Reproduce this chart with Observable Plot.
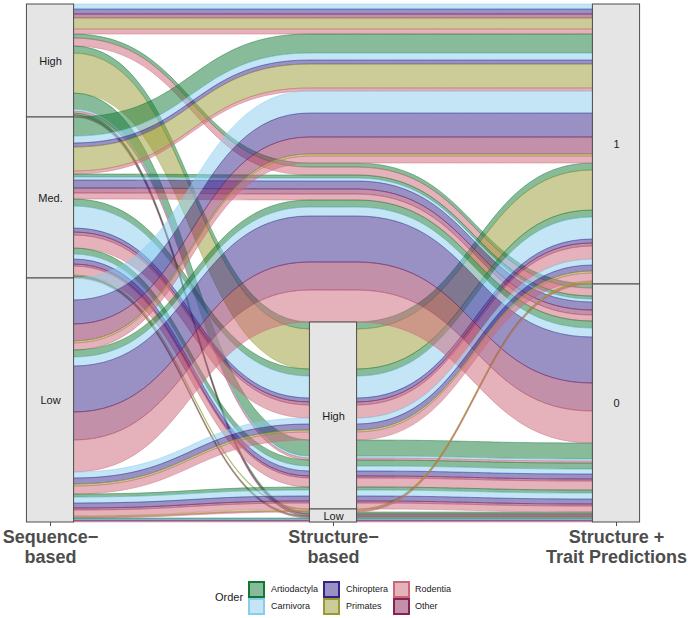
<!DOCTYPE html>
<html><head><meta charset="utf-8">
<script src="https://cdn.jsdelivr.net/npm/d3@7"></script>
<script src="https://cdn.jsdelivr.net/npm/@observablehq/plot@0.6"></script>
<style>
body{margin:0;background:#fff;font-family:"Liberation Sans",Arial,Helvetica,sans-serif;}
#wrap{position:relative;width:688px;height:618px;overflow:hidden;}
#legend{position:absolute;left:0;top:570px;width:688px;height:48px;color:#1a1a1a;}
.lg-title{position:absolute;left:215px;top:21px;font-size:11px;}
.lg-key{position:absolute;width:13px;height:13px;border:2px solid;}
.lg-lab{position:absolute;font-size:9px;line-height:11px;}
</style></head><body>
<div id="wrap"><div id="chart"></div><div id="legend"></div></div>
<script>
// ---- data ----
const orders = ["Artiodactyla","Carnivora","Chiroptera","Other","Primates","Rodentia"];
const orderColors = ["#117733","#88CCEE","#332288","#882255","#999933","#CC6677"];
const legendOrder = ["Artiodactyla","Carnivora","Chiroptera","Primates","Rodentia","Other"];
const seqLevels = ["High","Med.","Low"];
const structLevels = ["NA","High","Low"];
const traitLevels = ["1","0"];
const axisNames = ["Sequence\u2212\nbased","Structure\u2212\nbased","Structure +\nTrait Predictions"];

// one entry per (sequence, structure, trait) combination; counts per order (Artiodactyla, Carnivora, Chiroptera, Other, Primates, Rodentia)
const comboSeq    = ["High","High","High","High","High","Med.","Med.","Med.","Med.","Med.","Med.","Low","Low","Low","Low","Low","Low"];
const comboStruct = ["NA","NA","High","High","Low","NA","NA","High","High","Low","Low","NA","NA","High","High","Low","Low"];
const comboTrait  = ["1","0","1","0","0","1","0","1","0","1","0","1","0","1","0","1","0"];
const comboCounts = [
  [0,5,5,4,11,5],
  [4,0,0,0,0,8],
  [7,0,0,0,40,0],
  [16,2,0,0,0,2],
  [2,0,0,2,0,0],
  [19,7,4,0,24,3],
  [3,3,8,5,0,6],
  [7,22,4,3,0,13],
  [6,5,5,2,0,9],
  [0,0,0,0,1,0],
  [1,0,0,0,0,1],
  [0,22,24,17,2,7],
  [7,9,46,28,0,32],
  [0,6,6,0,2,8],
  [3,6,5,2,0,6],
  [0,0,0,0,1,1],
  [1,1,1,0,0,1]
];

// ---- build alluvia ----
const alluvia = [];
comboSeq.forEach((s, i) => {
  comboCounts[i].forEach((n, k) => {
    if (n > 0) alluvia.push({id: alluvia.length, seq: s, struct: comboStruct[i], trait: comboTrait[i], order: orders[k], ok: k, n});
  });
});
const r1 = d => seqLevels.indexOf(d.seq), r2 = d => structLevels.indexOf(d.struct), r3 = d => traitLevels.indexOf(d.trait);
const keys = [
  d => [r1(d), r2(d), r3(d), d.ok],
  d => [r2(d), r3(d), r1(d), d.ok],
  d => [r3(d), r2(d), r1(d), d.ok]
];
const stratOf = [d => d.seq, d => d.struct, d => d.trait];
const pos = alluvia.map(() => [null, null, null]);
const strata = [];
for (let a = 0; a < 3; a++) {
  const sorted = alluvia.slice().sort((p, q) => {
    const kp = keys[a](p), kq = keys[a](q);
    for (let j = 0; j < kp.length; j++) if (kp[j] !== kq[j]) return kp[j] - kq[j];
    return p.id - q.id;
  });
  let c = 0;
  const st = new Map();
  for (const d of sorted) {
    pos[d.id][a] = [c, c + d.n];
    const lab = stratOf[a](d);
    if (!st.has(lab)) st.set(lab, {axis: a + 1, label: lab, y0: c, y1: c});
    st.get(lab).y1 = c + d.n;
    c += d.n;
  }
  strata.push(...st.values());
}
const total = d3.sum(alluvia, d => d.n);
const w = 1 / 12;
const flowPts = [];
for (const d of alluvia) {
  const xs = [1 + w, 2 - w, 2 + w, 3 - w], ax = [0, 1, 1, 2];
  xs.forEach((x, j) => flowPts.push({id: d.id, order: d.order, x, top: pos[d.id][ax[j]][0], bot: pos[d.id][ax[j]][1]}));
}
const shown = strata.filter(s => s.label !== "NA");

const chart = Plot.plot({
  width: 688, height: 570,
  marginTop: 4, marginBottom: 48, marginLeft: 0, marginRight: 0,
  x: {domain: [1, 3], range: [50, 616], axis: null},
  y: {domain: [0, total], range: [4, 522], axis: null},
  color: {domain: orders, range: orderColors},
  style: {fontFamily: "'Liberation Sans', Arial, Helvetica, sans-serif", background: "white", overflow: "visible"},
  marks: [
    Plot.areaY(flowPts, {x: "x", y1: "top", y2: "bot", z: "id", fill: "order", stroke: "order",
      fillOpacity: 0.5, strokeOpacity: 0.55, strokeWidth: 0.8, curve: "bump-x"}),
    Plot.rect(shown, {x1: d => d.axis - w, x2: d => d.axis + w, y1: "y0", y2: "y1", fill: "#e5e5e5", stroke: "#4d4d4d", strokeWidth: 1}),
    Plot.text(shown, {x: "axis", y: d => (d.y0 + d.y1) / 2, text: "label", fontSize: 11, fill: "#1a1a1a"}),
    Plot.axisX([1, 2, 3], {tickFormat: i => axisNames[i - 1], fontSize: 18, fontWeight: "bold", color: "#4d4d4d",
      tickSize: 4, tickPadding: 3, lineHeight: 1.08})
  ]
});
document.getElementById("chart").appendChild(chart);

// ---- legend ----
const lg = document.getElementById("legend");
const t = document.createElement("div"); t.className = "lg-title"; t.textContent = "Order"; lg.appendChild(t);
const colX = [248, 323, 393], labX = [271, 346, 415], rowY = [11, 28];
legendOrder.forEach((o, i) => {
  const col = Math.floor(i / 2), row = i % 2;
  const c = orderColors[orders.indexOf(o)];
  const k = document.createElement("div"); k.className = "lg-key";
  k.style.left = colX[col] + "px"; k.style.top = rowY[row] + "px";
  k.style.borderColor = c; k.style.background = d3.color(c).copy({opacity: 0.5}).formatRgb();
  lg.appendChild(k);
  const l = document.createElement("div"); l.className = "lg-lab"; l.textContent = o;
  l.style.left = labX[col] + "px"; l.style.top = (rowY[row] + 3) + "px";
  lg.appendChild(l);
});
</script></body></html>
